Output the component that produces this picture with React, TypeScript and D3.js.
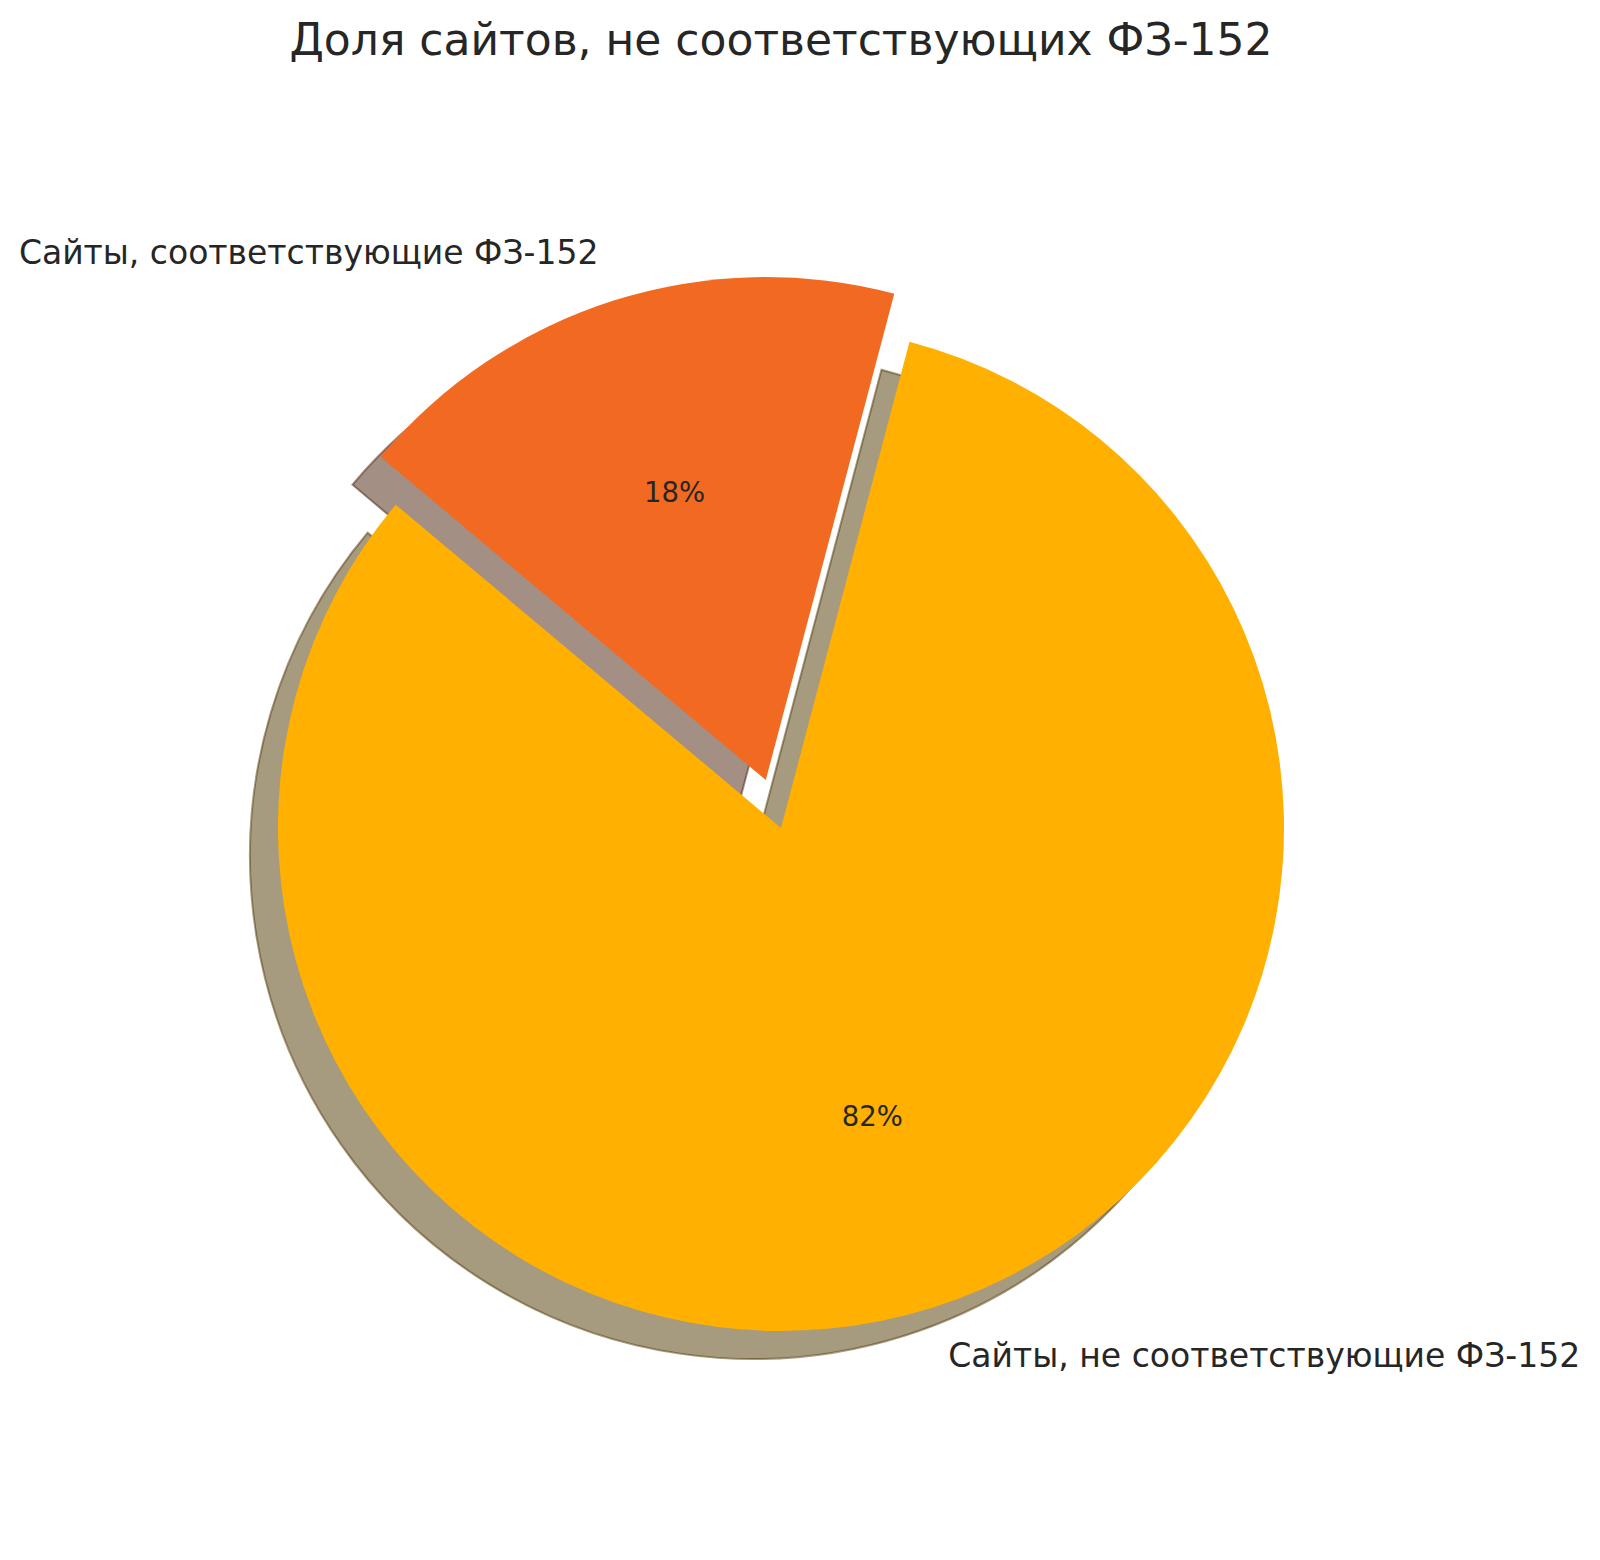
import React from "react";
import * as d3 from "d3";

const title = "Доля сайтов, не соответствующих ФЗ-152";
const categories = ["Сайты, не соответствующие ФЗ-152", "Сайты, соответствующие ФЗ-152"];
const values = [82, 18];
const colors = ["#FFB000", "#F26A21"];
const explode = [0, 0.1];
const startAngleDeg = 140; // matplotlib convention, counter-clockwise

const W = 1600;
const H = 1560;
const CX = 781;
const CY = 828;
const R = 503;
const SHADOW_DX = -28;
const SHADOW_DY = 28;
const TEXT = "#262626";
const FONT = "DejaVu Sans, sans-serif";

function darken(c: string) {
  const rgb = d3.rgb(c);
  return d3.rgb(rgb.r * 0.3, rgb.g * 0.3, rgb.b * 0.3).formatHex();
}

export default function App() {
  const start = ((90 - startAngleDeg) * Math.PI) / 180;
  const pie = d3
    .pie<number>()
    .sort(null)
    .value((d) => d)
    .startAngle(start)
    .endAngle(start - 2 * Math.PI);
  const arcs = pie(values);
  const arcGen = d3.arc<d3.PieArcDatum<number>>().innerRadius(0).outerRadius(R);

  const items = arcs.map((a, i) => {
    const mid = (a.startAngle + a.endAngle) / 2;
    const ux = Math.sin(mid);
    const uy = -Math.cos(mid);
    const ox = CX + explode[i] * R * ux;
    const oy = CY + explode[i] * R * uy;
    return { a, i, ux, uy, ox, oy, path: arcGen(a) as string };
  });

  return (
    <svg width={W} height={H} viewBox={`0 0 ${W} ${H}`} style={{ display: "block", position: "absolute", left: 0, top: 0, background: "#fff" }}>
      <rect x={0} y={0} width={W} height={H} fill="#fff" />
      <g>
        {items.map((it) => {
          const dc = darken(colors[it.i]);
          return (
            <path
              key={"s" + it.i}
              d={it.path}
              transform={`translate(${it.ox + SHADOW_DX},${it.oy + SHADOW_DY})`}
              fill={dc}
              fillOpacity={0.5}
              stroke={dc}
              strokeOpacity={0.5}
              strokeWidth={2}
              strokeLinejoin="miter"
            />
          );
        })}
      </g>
      <g>
        {items.map((it) => (
          <path key={"w" + it.i} d={it.path} transform={`translate(${it.ox},${it.oy})`} fill={colors[it.i]} />
        ))}
      </g>
      <g fontFamily={FONT} fill={TEXT}>
        {items.map((it) => (
          <text
            key={"p" + it.i}
            x={it.ox + 0.6 * R * it.ux}
            y={it.oy + 0.6 * R * it.uy}
            textAnchor="middle"
            dominantBaseline="central"
            fontSize={27.5}
          >
            {Math.round(values[it.i])}%
          </text>
        ))}
        {items.map((it) => (
          <text
            key={"l" + it.i}
            x={it.ox + 1.1 * R * it.ux}
            y={it.oy + 1.1 * R * it.uy}
            textAnchor={it.ux > 0 ? "start" : "end"}
            dominantBaseline="central"
            fontSize={33}
          >
            {categories[it.i]}
          </text>
        ))}
        <text x={781} y={39} textAnchor="middle" dominantBaseline="central" fontSize={44}>
          {title}
        </text>
      </g>
    </svg>
  );
}
